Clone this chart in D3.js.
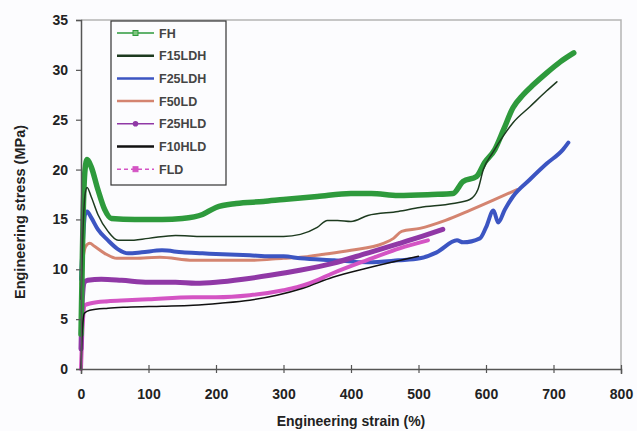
<!DOCTYPE html>
<html>
<head>
<meta charset="utf-8">
<script src="https://cdn.jsdelivr.net/npm/d3@7"></script>
<style>
  html, body { margin: 0; padding: 0; background: #fcfcfe; }
  svg { display: block; }
  text { font-family: "Liberation Sans", Arial, sans-serif; }
</style>
</head>
<body>
<svg id="chart" width="637" height="431"></svg>
<script>
// Stress–strain curves, [strain %, stress MPa]
const FH = [[0,3.5],[3,15],[6,20],[9,21],[15,20.3],[25,18],[35,16],[45,15.1],[80,15],[120,15],[150,15.1],[180,15.5],[200,16.2],[230,16.6],[270,16.8],[300,17],[350,17.3],[400,17.6],[430,17.6],[470,17.4],[520,17.5],[551,17.6],[566,18.8],[586,19.3],[598,20.7],[613,22],[626,24],[640,26.2],[655,27.5],[670,28.5],[690,29.7],[710,30.8],[730,31.7]];
const F15LDH = [[0,7],[3,14],[6,17.5],[9,18.2],[15,17.3],[25,15.5],[40,13.8],[55,12.9],[70,12.9],[100,13.1],[140,13.4],[180,13.3],[220,13.3],[260,13.3],[300,13.3],[325,13.5],[350,14.2],[365,14.9],[380,14.9],[400,14.8],[425,15.4],[470,15.8],[502,16.2],[551,16.6],[576,17],[588,18],[596,20],[610,21.7],[625,23.3],[640,24.7],[665,26.3],[690,27.9],[705,28.8]];
const F25LDH = [[0,9],[3,13],[6,15.5],[9,15.8],[15,15.2],[25,14],[40,12.9],[55,12],[70,11.6],[90,11.7],[120,11.9],[150,11.7],[180,11.6],[210,11.5],[250,11.4],[280,11.3],[300,11.3],[325,11.1],[375,10.9],[425,10.7],[470,10.9],[502,11.1],[527,11.7],[557,12.9],[566,12.7],[591,13.1],[600,14.2],[611,15.9],[618,14.7],[628,16],[640,17.3],[665,19],[690,20.6],[714,22],[722,22.7]];
const F50LD = [[0,8.5],[3,11],[7,12.3],[13,12.6],[20,12.3],[35,11.6],[53,11.1],[80,11.1],[117,11.2],[166,10.9],[200,10.9],[250,10.9],[300,11.1],[325,11.2],[360,11.5],[400,11.9],[448,12.6],[463,13.1],[475,13.8],[502,14.1],[540,14.9],[576,15.9],[610,16.9],[646,18]];
const F25HLD = [[0,2],[2,7],[5,8.7],[10,8.9],[30,9],[60,8.9],[100,8.7],[140,8.7],[170,8.6],[200,8.7],[240,9],[280,9.4],[324,9.9],[373,10.6],[423,11.6],[472,12.6],[505,13.3],[536,14]];
const F10HLD = [[0,0],[2,4],[5,5.6],[13,5.9],[40,6.1],[68,6.2],[120,6.3],[166,6.4],[206,6.6],[250,6.9],[290,7.4],[329,8.1],[373,9.2],[423,10.1],[460,10.7],[500,11.3]];
const FLD = [[0,0],[1,2],[3,5],[6,6.4],[15,6.6],[40,6.8],[68,6.9],[100,7],[166,7.2],[200,7.2],[250,7.4],[300,7.9],[320,8.2],[339,8.6],[373,9.6],[423,10.9],[472,12.1],[514,12.9]];

const seriesNames = ["FH", "F15LDH", "F25LDH", "F50LD", "F25HLD", "F10HLD", "FLD"];
const xTicks = [0, 100, 200, 300, 400, 500, 600, 700, 800];
const yTicks = [0, 5, 10, 15, 20, 25, 30, 35];

const styles = {
  FH:     { color: "#2e9a3c", width: 5.5, marker: "square" },
  F15LDH: { color: "#1d3a1f", width: 1.5, marker: null },
  F25LDH: { color: "#3c55c2", width: 4,   marker: null },
  F50LD:  { color: "#d48470", width: 3,   marker: null },
  F25HLD: { color: "#9038a6", width: 5,   marker: "circle" },
  F10HLD: { color: "#111111", width: 1.5, marker: null },
  FLD:    { color: "#d454c4", width: 4,   marker: "square" }
};
const dataBySeries = { FH, F15LDH, F25LDH, F50LD, F25HLD, F10HLD, FLD };
const drawOrder = ["F50LD", "F25LDH", "FLD", "F25HLD", "FH", "F15LDH", "F10HLD"];

const svg = d3.select("#chart");
const plotL = 81, plotR = 621, plotT = 20, plotB = 369;
const x = d3.scaleLinear().domain([0, 800]).range([plotL, plotR]);
const y = d3.scaleLinear().domain([0, 35]).range([plotB, plotT]);

// plot frame (top and right edges)
svg.append("path")
  .attr("d", `M${plotL},${plotT}H${plotR}V${plotB}`)
  .attr("fill", "none").attr("stroke", "#b4b4b4").attr("stroke-width", 1.5);

// curves
const line = d3.line().x(d => x(d[0])).y(d => y(d[1])).curve(d3.curveMonotoneX);
const curves = svg.append("g");
drawOrder.forEach(name => {
  const s = styles[name];
  curves.append("path")
    .datum(dataBySeries[name])
    .attr("d", line)
    .attr("fill", "none")
    .attr("stroke", s.color)
    .attr("stroke-width", s.width)
    .attr("stroke-linejoin", "round")
    .attr("stroke-linecap", "round");
});

// axes
const xAxis = svg.append("g")
  .attr("transform", `translate(0,${plotB})`)
  .call(d3.axisBottom(x).tickValues(xTicks).tickSize(5).tickPadding(15));
const yAxis = svg.append("g")
  .attr("transform", `translate(${plotL},0)`)
  .call(d3.axisLeft(y).tickValues(yTicks).tickSize(5).tickPadding(8));
[xAxis, yAxis].forEach(g => {
  g.select(".domain").attr("stroke", "#555").attr("stroke-width", 1.5);
  g.selectAll(".tick line").attr("stroke", "#555").attr("stroke-width", 1.2);
  g.selectAll(".tick text")
    .attr("font-size", 14).attr("font-weight", "bold").attr("fill", "#222");
});
xAxis.selectAll(".tick line").attr("y1", -4).attr("y2", 4);

// axis titles
svg.append("text")
  .attr("x", (plotL + plotR) / 2).attr("y", 426)
  .attr("text-anchor", "middle")
  .attr("font-size", 14).attr("font-weight", "bold").attr("fill", "#222")
  .text("Engineering strain (%)");
svg.append("text")
  .attr("transform", `translate(25,212) rotate(-90)`)
  .attr("text-anchor", "middle")
  .attr("font-size", 14.5).attr("font-weight", "bold").attr("fill", "#222")
  .text("Engineering stress (MPa)");

// legend
const lg = svg.append("g").attr("transform", "translate(111,21)");
lg.append("rect").attr("width", 115).attr("height", 164)
  .attr("fill", "#fcfcfe").attr("stroke", "#333").attr("stroke-width", 1.2);
seriesNames.forEach((name, i) => {
  const s = styles[name];
  const yy = 12 + i * 22.7;
  lg.append("line")
    .attr("x1", 6).attr("x2", 43).attr("y1", yy).attr("y2", yy)
    .attr("stroke", s.color)
    .attr("stroke-width", s.marker ? 1.5 : 2.5)
    .attr("stroke-dasharray", name === "FLD" ? "4,3" : null);
  if (s.marker === "circle") {
    lg.append("circle").attr("cx", 24.5).attr("cy", yy).attr("r", 2.8).attr("fill", s.color);
  } else if (s.marker === "square") {
    lg.append("rect").attr("x", 22).attr("y", yy - 2.5).attr("width", 5).attr("height", 5)
      .attr("fill", name === "FH" ? "#7fc57f" : s.color).attr("stroke", s.color);
  }
  lg.append("text")
    .attr("x", 48).attr("y", yy + 4.5)
    .attr("font-size", 12.5).attr("font-weight", "bold").attr("fill", "#444")
    .text(name);
});
</script>
</body>
</html>
